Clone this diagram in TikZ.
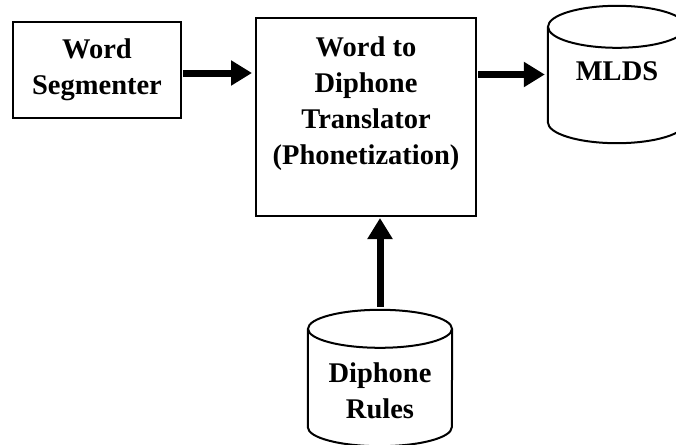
\documentclass[tikz,border=0pt]{standalone}
\usepackage{fontspec}
\setmainfont{Liberation Serif}
\usetikzlibrary{arrows.meta}
\usetikzlibrary{positioning}

\begin{document}
\begin{tikzpicture}[x=1pt,y=-1pt]
      \useasboundingbox (0,0) rectangle (676,444);
      \tikzstyle{every node}=[font=\fontsize{28.5}{36}\selectfont\bfseries,align=center]
      \tikzstyle{blk}=[draw,line width=2pt,inner sep=0pt]
      \tikzstyle{dbline}=[line width=2pt]
      \tikzstyle{flow}=[line width=7pt,-{Triangle[length=21pt,width=24pt]}]

      \node[blk,minimum width=168pt,minimum height=96pt] (seg) at (97,70) {Word\\Segmenter};
      \node[blk,minimum width=220pt,minimum height=198pt] (trans) at (366,117) {};
      \node (transtext) at (366,104) {Word to\\Diphone\\Translator\\(Phonetization)};
      \node[minimum width=138pt,minimum height=137pt,inner sep=0pt] (mlds) at (617,74.5) {};
      \node (mldstext) at (617,71.5) {MLDS};
      \node[minimum width=144pt,minimum height=136pt,inner sep=0pt] (rules) at (380,378) {};
      \node (rulestext) at (380,391) {Diphone\\Rules};

      % database outlines
      \draw[dbline] ([yshift=-21pt]mlds.north west) -- ([yshift=21pt]mlds.south west)
            arc[start angle=180,end angle=360,x radius=69pt,y radius=21pt] -- ([yshift=-21pt]mlds.north east);
      \draw[dbline] ([yshift=-21pt]mlds.north) ellipse [x radius=69pt,y radius=21pt];
      \draw[dbline] ([yshift=-19pt]rules.north west) -- ([yshift=19pt]rules.south west)
            arc[start angle=180,end angle=360,x radius=72pt,y radius=19pt] -- ([yshift=-19pt]rules.north east);
      \draw[dbline] ([yshift=-19pt]rules.north) ellipse [x radius=72pt,y radius=19pt];

      \draw[flow,shorten <=1pt,shorten >=3pt] ([yshift=-3pt]seg.east) -- ([yshift=-3pt]seg.east -| trans.west);
      \draw[flow,shorten <=1pt,shorten >=3pt] (trans.east |- mlds.center) -- (mlds.center -| mlds.west);
      \draw[flow,shorten <=3pt,shorten >=1pt] (rules.north) -- (rules.north |- trans.south);
\end{tikzpicture}
\end{document}
